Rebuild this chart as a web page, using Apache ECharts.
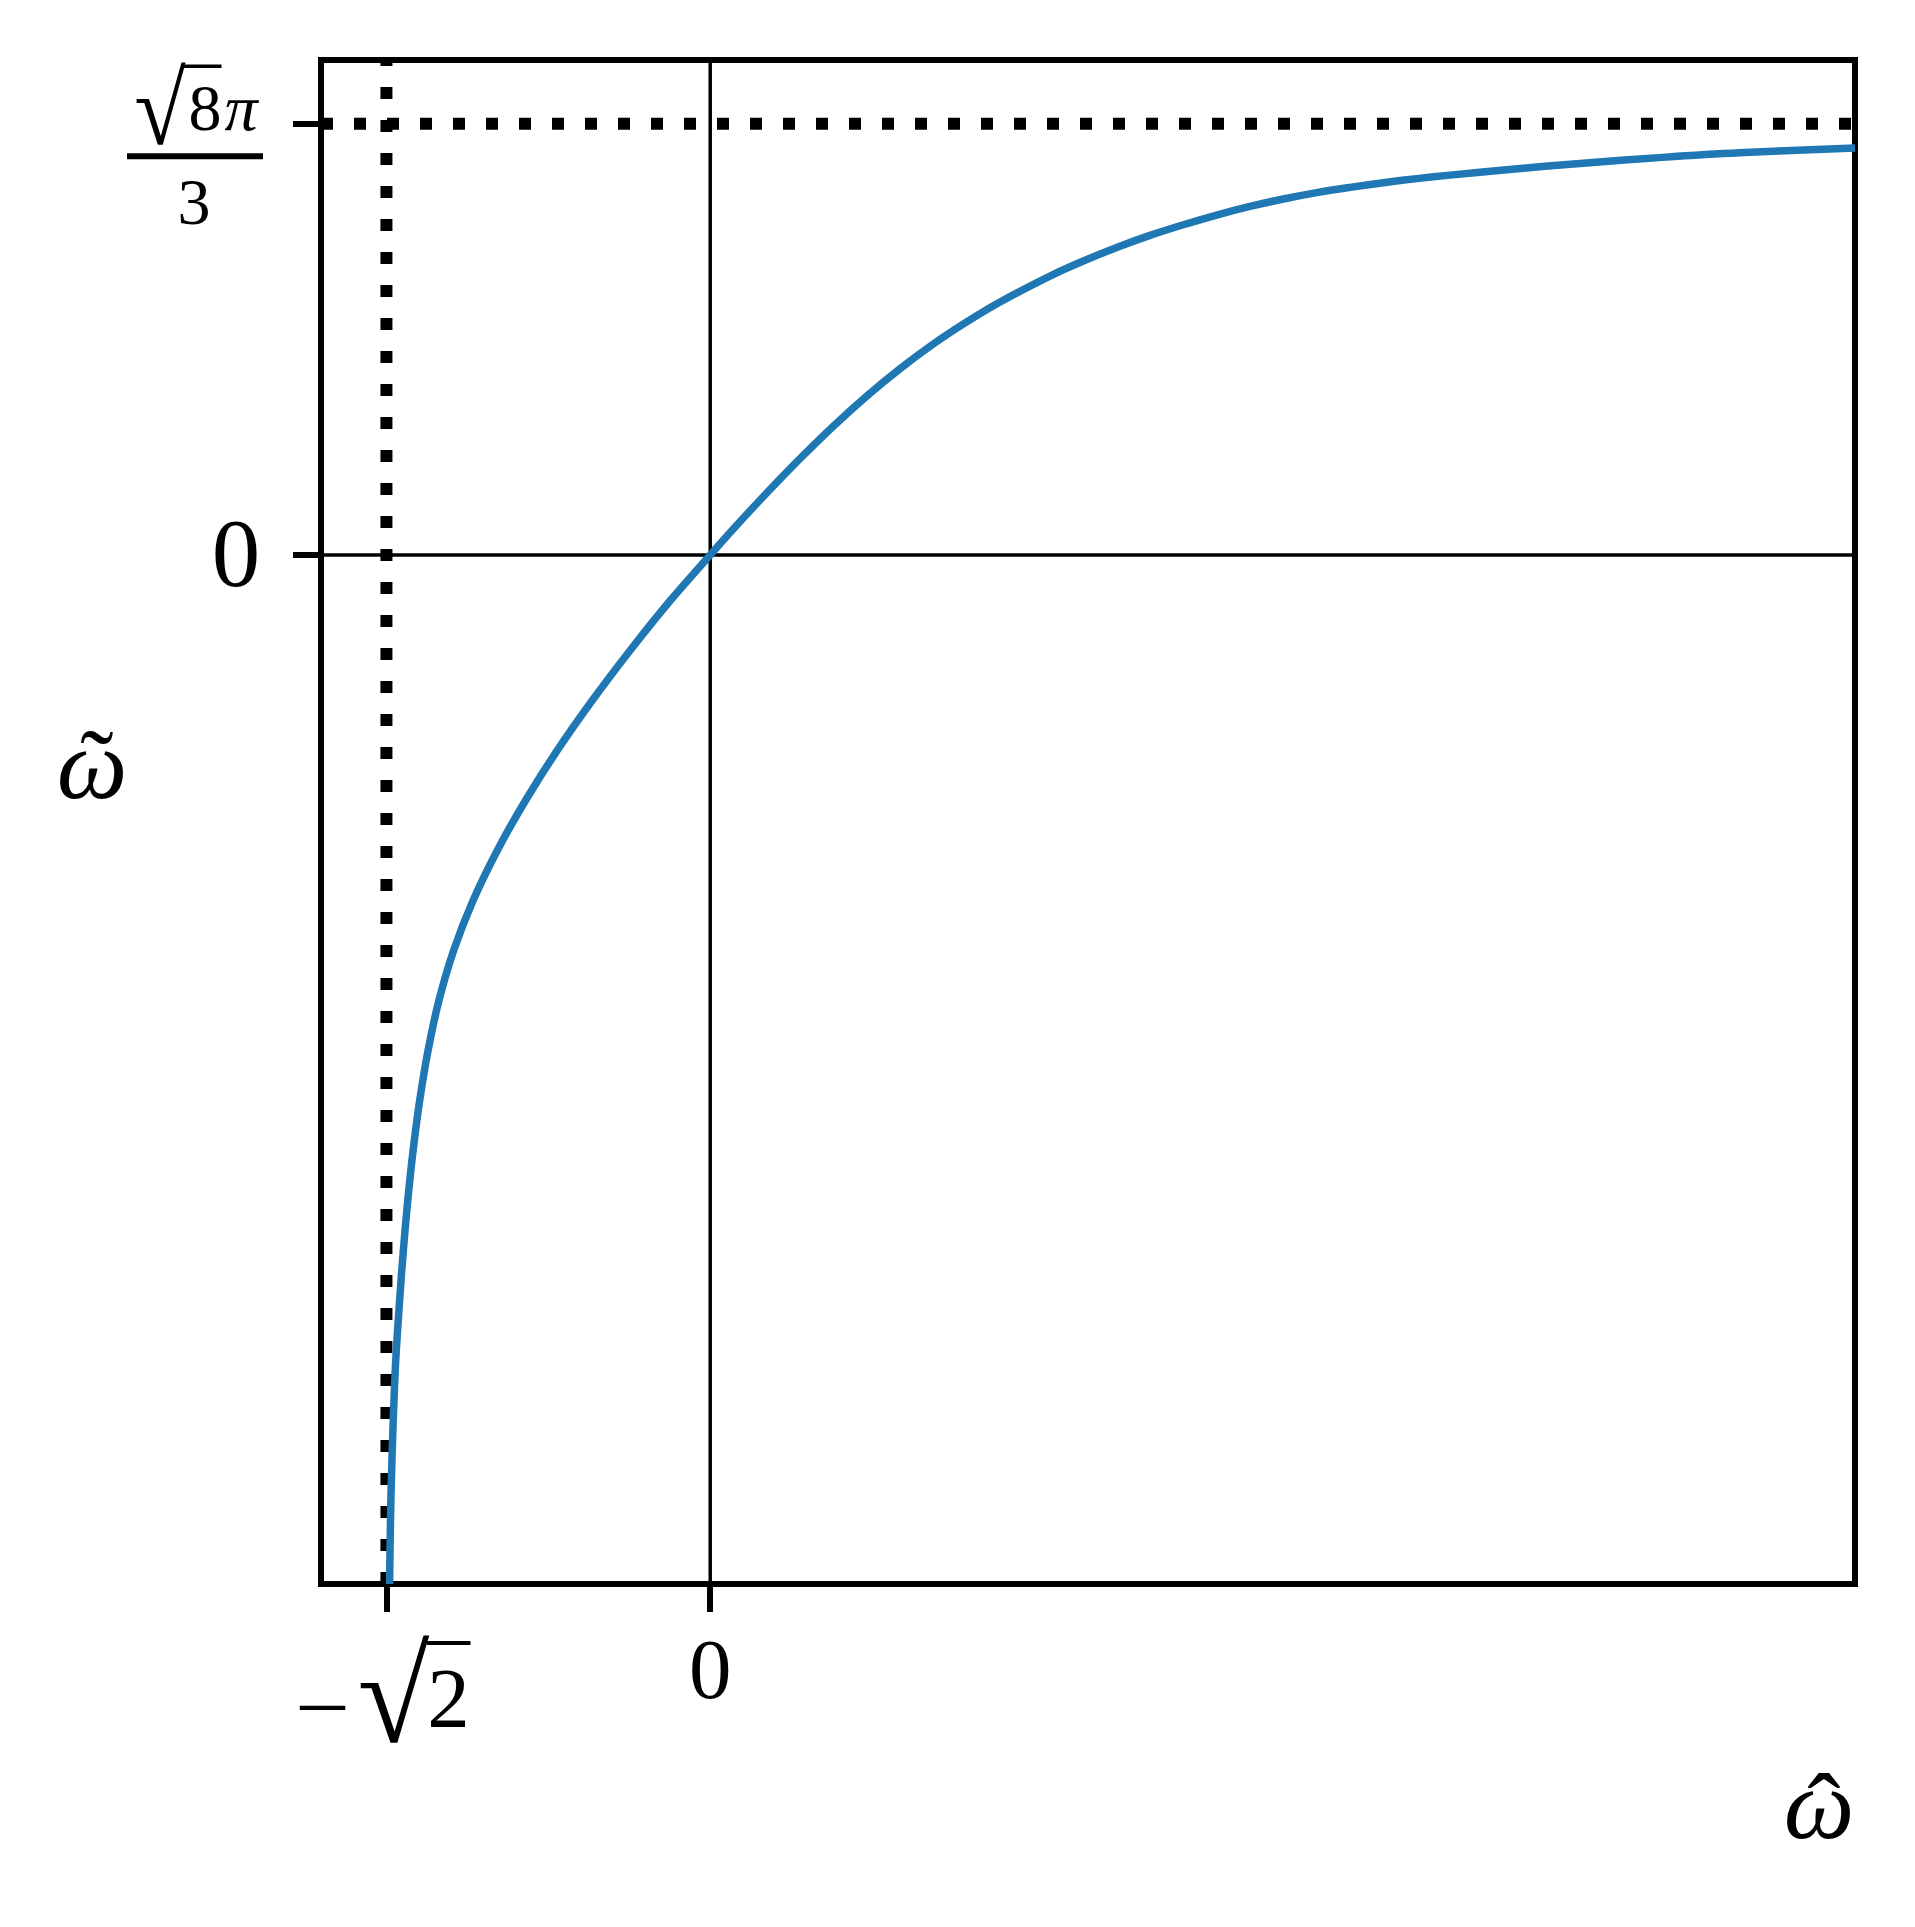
<!DOCTYPE html>
<html>
<head>
<meta charset="utf-8">
<script src="https://cdn.jsdelivr.net/npm/echarts@6/dist/echarts.min.js"></script>
<style>
  html, body { margin: 0; padding: 0; background: #fff; }
  #chart { width: 1915px; height: 1927px; }
</style>
</head>
<body>
<div id="chart"></div>
<script>
// curve: omega-hat (x) against omega-tilde (y)
const omegaHat = [-1.4004, -1.3934, -1.3763, -1.3565, -1.3401, -1.3209, -1.2975, -1.2687, -1.232, -1.1844,
  -1.1199, -1.0348, -0.9289, -0.8055, -0.6668, -0.5139, -0.3484, -0.1726, 0,
  0.1008, 0.2467, 0.3921, 0.5376, 0.6835, 0.8289, 0.9743, 1.1202, 1.2657, 1.484,
  1.6295, 1.7754, 1.9208, 2.0663, 2.2121, 2.3576, 2.503, 2.6489, 2.7943, 2.9398,
  3.0856, 3.2311, 3.4914, 3.826, 4.1601, 4.4942, 5.0]
const omegaTilde = [-7.07, -6.404, -5.62, -5.119, -4.775, -4.432, -4.088, -3.745, -3.401, -3.058,
  -2.714, -2.371, -2.027, -1.684, -1.34, -0.997, -0.653, -0.31, 0,
  0.178, 0.425, 0.661, 0.884, 1.091, 1.279, 1.449, 1.601, 1.738, 1.916,
  2.019, 2.112, 2.195, 2.268, 2.335, 2.394, 2.445, 2.489, 2.525, 2.557,
  2.585, 2.609, 2.648, 2.693, 2.731, 2.762, 2.795]

// asymptotes: -sqrt(2) and sqrt(8)*pi/3
const asymptoteX = -1.4142
const asymptoteY = 2.9619
const xTicks = [asymptoteX, 0]
const yTicks = [0, asymptoteY]
const xRange = [-1.7, 5.0]
const yRange = [-7.07, 3.4]

const chart = echarts.init(document.getElementById('chart'))

const serif = '"Liberation Serif", "DejaVu Serif", serif'
const black = '#000'

const flatLine = (data, width, type) => ({
  type: 'line',
  data,
  symbol: 'none',
  silent: true,
  lineStyle: { color: black, width, type, cap: 'butt' }
})

chart.setOption({
  animation: false,
  backgroundColor: '#fff',
  grid: {
    left: 321, top: 60, width: 1534, height: 1524,
    show: true, borderColor: black, borderWidth: 6,
    outerBoundsMode: 'none'
  },
  xAxis: {
    type: 'value',
    min: xRange[0],
    max: xRange[1],
    axisLine: { show: false, onZero: false },
    splitLine: { show: false },
    axisLabel: { show: false },
    axisTick: { show: true, customValues: xTicks, length: 28, lineStyle: { color: black, width: 6 } }
  },
  yAxis: {
    type: 'value',
    min: yRange[0],
    max: yRange[1],
    axisLine: { show: false, onZero: false },
    splitLine: { show: false },
    axisLabel: { show: false },
    axisTick: { show: true, customValues: yTicks, length: 28, lineStyle: { color: black, width: 6 } }
  },
  series: [
    flatLine([[xRange[0], 0], [xRange[1], 0]], 3.5, 'solid'),
    flatLine([[0, yRange[0]], [0, yRange[1]]], 3.5, 'solid'),
    flatLine([[asymptoteX, yRange[0]], [asymptoteX, yRange[1]]], 12, [12, 21]),
    flatLine([[xRange[0], asymptoteY], [xRange[1], asymptoteY]], 12, [12, 21]),
    {
      type: 'line',
      data: omegaHat.map((x, i) => [x, omegaTilde[i]]),
      symbol: 'none',
      smooth: 0.35,
      lineStyle: { color: '#1f77b4', width: 7.5 }
    }
  ]
})

// tick labels and axis titles
const px = (x, y) => chart.convertToPixel({ gridIndex: 0 }, [x, y])
const [zeroX, zeroY] = px(0, 0)
const sqrtX = px(asymptoteX, 0)[0]
const topY = px(0, asymptoteY)[1]
const gridBottom = px(0, yRange[0])[1]
const gridRight = px(xRange[1], 0)[0]

const text = (x, y, s, size, italic, sx, sy) => ({
  type: 'text',
  x, y,
  scaleX: sx || 1,
  scaleY: sy || 1,
  silent: true,
  style: {
    text: s,
    font: (italic ? 'italic ' : '') + size + 'px ' + serif,
    fill: black,
    align: 'center',
    verticalAlign: 'middle'
  }
})
const bar = (x1, x2, y, h) => ({
  type: 'rect',
  silent: true,
  shape: { x: x1, y: y - h / 2, width: x2 - x1, height: h },
  style: { fill: black }
})

chart.setOption({
  graphic: [
    // y tick 0
    text(236, zeroY + 6, '0', 97),
    // y tick sqrt(8)pi / 3
    text(160, topY - 7, '\u221A', 92, false, 1.02, 1.12),
    bar(182, 221.5, topY - 57.5, 3.5),
    text(205, topY - 11, '8', 66),
    text(241, topY - 11, '\u03C0', 66, true),
    bar(127, 263, topY + 32.5, 6),
    text(194, topY + 82.5, '3', 66),
    // x tick 0
    text(zeroX, gridBottom + 92, '0', 85),
    // x tick -sqrt(2)
    text(sqrtX - 64, gridBottom + 130, '\u2212', 85, false, 1.15, 1),
    text(sqrtX + 7, gridBottom + 123, '\u221A', 115, false, 1.14, 1.17),
    bar(sqrtX + 40.5, sqrtX + 84, gridBottom + 59, 4),
    text(sqrtX + 62, gridBottom + 121, '2', 85),
    // axis titles
    text(gridRight - 36, 1812, '\u03C9', 100, true),
    text(gridRight - 31, 1817, '\u02C6', 100),
    text(92, 772, '\u03C9', 100, true),
    text(97, 772, '\u02DC', 100)
  ]
})
</script>
</body>
</html>
